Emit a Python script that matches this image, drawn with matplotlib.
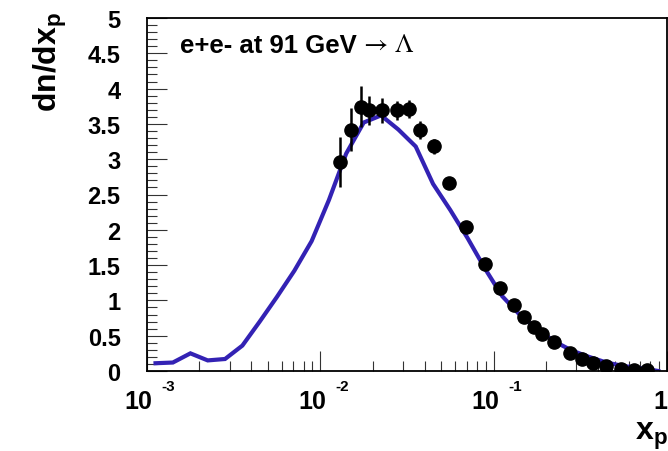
import numpy as np
import matplotlib
matplotlib.use('Agg')
import matplotlib.pyplot as plt
from matplotlib.ticker import MultipleLocator, LogLocator, NullFormatter

plt.rcParams['font.family'] = ['Liberation Sans', 'DejaVu Sans']
plt.rcParams['mathtext.fontset'] = 'custom'
plt.rcParams['mathtext.bf'] = 'Liberation Sans:bold'
plt.rcParams['mathtext.rm'] = 'Liberation Sans'

# model curve (blue line)
model_x = [0.00112, 0.00141, 0.00178, 0.00224, 0.00282, 0.00355, 0.00447, 0.00562,
           0.00708, 0.00891, 0.0112, 0.0141, 0.0178, 0.0224, 0.0282, 0.0355,
           0.0447, 0.0562, 0.0708, 0.0891, 0.112, 0.141, 0.178, 0.224, 0.282,
           0.355, 0.447, 0.562, 0.708, 0.891]
model_y = [0.11, 0.12, 0.25, 0.15, 0.17, 0.36, 0.70, 1.05, 1.42, 1.84, 2.42, 3.08,
           3.52, 3.62, 3.42, 3.18, 2.65, 2.28, 1.88, 1.45, 1.06, 0.80, 0.59, 0.42,
           0.29, 0.20, 0.12, 0.07, 0.04, 0.0]

# measured data points
data_x = [0.0130, 0.0151, 0.0171, 0.0191, 0.0227, 0.0276, 0.0324, 0.0376, 0.0451,
          0.0552, 0.0695, 0.0896, 0.109, 0.131, 0.150, 0.170, 0.191, 0.223, 0.275,
          0.323, 0.373, 0.447, 0.543, 0.646, 0.771]
data_y = [2.96, 3.42, 3.74, 3.69, 3.69, 3.69, 3.71, 3.41, 3.18, 2.66, 2.04, 1.52,
          1.18, 0.94, 0.76, 0.63, 0.52, 0.41, 0.25, 0.17, 0.11, 0.075, 0.03, 0.02, 0.01]
data_err = [0.36, 0.30, 0.29, 0.21, 0.18, 0.13, 0.13, 0.13, 0.11, 0.08, 0.06, 0.05,
            0.04, 0.04, 0.03, 0.03, 0.03, 0.02, 0.02, 0.02, 0.01, 0.01, 0.01, 0.01, 0.01]

yticks = [0, 0.5, 1, 1.5, 2, 2.5, 3, 3.5, 4, 4.5, 5]
ytick_labels = ['0', '0.5', '1', '1.5', '2', '2.5', '3', '3.5', '4', '4.5', '5']
decades = [-3, -2, -1]

fig = plt.figure(figsize=(6.68, 4.52), dpi=100)
ax = fig.add_axes([147 / 668, 80 / 452, 520 / 668, 353 / 452])

ax.plot(model_x, model_y, color='#3322b4', lw=3.0, solid_joinstyle='miter')
ax.errorbar(data_x, data_y, yerr=data_err, fmt='o', color='black', ms=9.5,
            elinewidth=1.8, capsize=0)

ax.set_xscale('log')
ax.set_xlim(1e-3, 1)
ax.set_ylim(0, 5)

ax.set_yticks(yticks)
ax.set_yticklabels(ytick_labels, fontweight='bold', fontsize=17)
ax.yaxis.set_minor_locator(MultipleLocator(0.1))
ax.xaxis.set_major_locator(LogLocator(base=10))
ax.xaxis.set_minor_locator(LogLocator(base=10, subs=np.arange(2, 10)))
ax.xaxis.set_major_formatter(NullFormatter())
ax.xaxis.set_minor_formatter(NullFormatter())

ax.tick_params(which='both', direction='in', top=False, right=False,
               color='#333333', width=0.8)
ax.tick_params(which='major', length=14.5)
ax.tick_params(which='minor', length=7.5)
ax.tick_params(axis='y', pad=19)

for sp in ax.spines.values():
    sp.set_linewidth(1.3)

# log axis labels, ROOT style
for d in decades:
    ax.annotate('10', xy=(10.0 ** d, 0), xycoords=('data', 'axes fraction'),
                xytext=(-6, -21.5), textcoords='offset points', ha='center',
                va='center', fontsize=18, fontweight='bold')
    ax.annotate(str(d), xy=(10.0 ** d, 0), xycoords=('data', 'axes fraction'),
                xytext=(15.5, -11), textcoords='offset points', ha='center',
                va='center', fontsize=11, fontweight='bold')
ax.annotate('1', xy=(1.0, 0), xycoords=('data', 'axes fraction'),
            xytext=(-5, -21.5), textcoords='offset points', ha='center',
            va='center', fontsize=18, fontweight='bold')

title = fig.text(180 / 668, 1 - 46 / 452, 'e+e- at 91 GeV ', fontsize=18.5,
                 fontweight='bold', va='center', ha='left')
ax.annotate('\u2192 \u039b', xy=(1, 0.5), xycoords=title, va='center', ha='left',
            fontsize=19, family='STIXGeneral', annotation_clip=False)

fig.text(50 / 668, 1 - 12 / 452, r'$\mathbf{dn/dx_{p}}$', rotation=90,
         ha='center', va='top', fontsize=23)
fig.text(1.0, 0.0, r'$\mathbf{x_{p}}$', ha='right', va='bottom', fontsize=23)

fig.savefig('out.png', dpi=100)
